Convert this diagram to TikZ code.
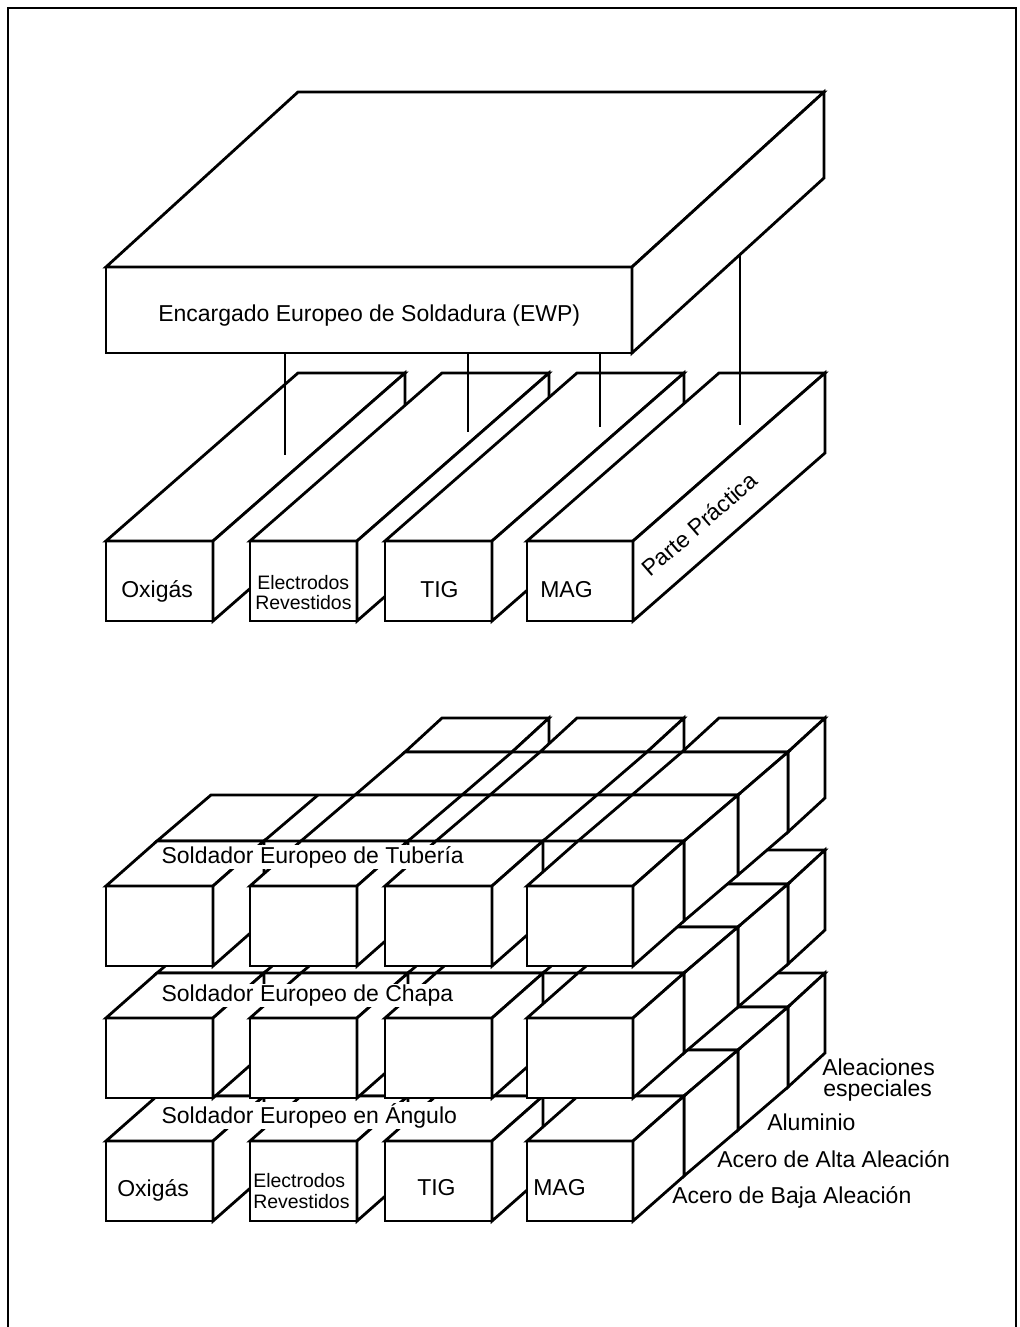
\documentclass[tikz,border=0pt]{standalone}
\usepackage{fontspec}
\setmainfont{Liberation Sans}
\tikzset{
  edge/.style={draw=black, fill=white, line width=2.1pt},
  groove/.style={draw=black, line width=2.1pt},
  link/.style={draw=black, line width=1.7pt},
  frameline/.style={draw=black, line width=1.5pt},
  lbl/.style={font=\fontsize{17.25}{20}\selectfont, inner sep=0pt},
  lblsm/.style={font=\fontsize{14.6}{15.6}\selectfont, inner sep=0pt, align=left},
  band/.style={lbl, fill=white, inner xsep=1pt, inner ysep=0.6pt},
}
% A box seen from the front-right-top:
% #1,#2 front-top-left corner, #3 width, #4 height, #5,#6 depth vector
\newcommand\blk[6]{%
  \filldraw[edge] (#1,#2) rectangle ++(#3,#4);
  \filldraw[edge] (#1,#2) -- ++(#5,#6) -- ++(#3,0) -- (#1+#3,#2) -- cycle;
  \filldraw[edge] (#1+#3,#2) -- ++(#5,#6) -- ++(0,#4) -- (#1+#3,#2+#4) -- cycle;
}
% one grid box: #1 left x, #2 width, #3 level top y, #4,#5 row front offset, #6,#7 row depth
\newcommand\boxat[7]{%
  \pgfmathsetmacro\px{#1+#4}\pgfmathsetmacro\py{#3+#5}%
  \blk{\px}{\py}{#2}{80}{#6}{#7}}
% a row spanning several columns, with the column edges scored on its top face
\newcommand\slabat[8]{%
  \boxat{#1}{#2}{#3}{#4}{#5}{#6}{#7}
  \foreach \g in {#8}{\draw[groove] (\g+#4,#3+#5) -- ++(#6,#7);}}

\begin{document}
\begin{tikzpicture}[x=0.75pt, y=-0.75pt]
\useasboundingbox (0,0) rectangle (1020,1327);

% outer frame
\draw[frameline] (8,1327) -- (8,8) -- (1016,8) -- (1016,1327);

% ---------- upper block: EWP slab and the four process bars ----------
\blk{106}{267}{526}{86}{192}{-175}
\node[lbl, anchor=base west] (ewp) at (158,321) {Encargado Europeo de Soldadura (EWP)};

\blk{106}{541}{107}{80}{192}{-168}
\blk{250}{541}{107}{80}{192}{-168}
\blk{385}{541}{107}{80}{192}{-168}
\blk{527}{541}{106}{80}{192}{-168}

\node[lbl, anchor=base west] (oxi) at (121,597) {Oxigás};
\node[lblsm, anchor=base west] (ele) at (257,589) {Electrodos};
\node[lblsm, anchor=base west] (rev) at (255,609) {Revestidos};
\node[lbl, anchor=base west] (tig) at (420,597) {TIG};
\node[lbl, anchor=base west] (mag) at (540,597) {MAG};
\node[lbl, anchor=base west, rotate=41] (pra) at (650,578) {Parte Práctica};

% links from the EWP slab down to the bars
\coordinate (ewpA) at (285,353);  \coordinate (barA) at (285,455);
\coordinate (ewpB) at (468,353);  \coordinate (barB) at (468,432);
\coordinate (ewpC) at (600,353);  \coordinate (barC) at (600,427);
\coordinate (ewpD) at (740,254.6);\coordinate (barD) at (740,425);
\draw[link] (ewpA) -- (barA);
\draw[link] (ewpB) -- (barB);
\draw[link] (ewpC) -- (barC);
\draw[link] (ewpD) -- (barD);

% ---------- lower block: process x level x material grid ----------
% drawn back to front; within a row, bottom level first, left column first
% row 4 (Aleaciones especiales)
\foreach \ty in {1141,1018}{
  \foreach \cx/\cw in {106/107,250/107,385/107,527/106}{
    \boxat{\cx}{\cw}{\ty}{155}{-134}{37}{-34}}}
\foreach \cx/\cw in {250/107,385/107,527/106}{
  \boxat{\cx}{\cw}{886}{155}{-134}{37}{-34}}
% row 3 (Aluminio)
\slabat{106}{527}{1141}{105}{-91}{50}{-43}{213,250,357,385,492,527}
\slabat{106}{527}{1018}{105}{-91}{50}{-43}{213,250,357,385,492,527}
\slabat{250}{383}{886}{105}{-91}{50}{-43}{357,385,492,527}
% row 2 (Acero de Alta Aleacion)
\slabat{106}{527}{1141}{51}{-45}{54}{-46}{213,250,357,385,492,527}
\slabat{106}{527}{1018}{51}{-45}{54}{-46}{213,250,357,385,492,527}
\slabat{106}{527}{886}{51}{-45}{54}{-46}{213,250,357,385,492,527}
% row 1 (Acero de Baja Aleacion)
\foreach \ty in {1141,1018,886}{
  \foreach \cx/\cw in {106/107,250/107,385/107,527/106}{
    \boxat{\cx}{\cw}{\ty}{0}{0}{51}{-45}}}

% level names written across the top faces
\node[band, anchor=base west] (tub) at (160,863) {Soldador Europeo de Tubería};
\node[band, anchor=base west] (cha) at (160,1001) {Soldador Europeo de Chapa};
\node[band, anchor=base west] (ang) at (160,1123) {Soldador Europeo en Ángulo};

% process names on the front row
\node[lbl, anchor=base west] (oxi2) at (117,1196) {Oxigás};
\node[lblsm, anchor=base west] (ele2) at (253,1187) {Electrodos};
\node[lblsm, anchor=base west] (rev2) at (253,1208) {Revestidos};
\node[lbl, anchor=base west] (tig2) at (417,1195) {TIG};
\node[lbl, anchor=base west] (mag2) at (533,1195) {MAG};

% material names along the depth
\node[lbl, anchor=base west] (mat4a) at (822,1075) {Aleaciones};
\node[lbl, anchor=base west] (mat4b) at (823,1096) {especiales};
\node[lbl, anchor=base west] (mat3) at (767,1130) {Aluminio};
\node[lbl, anchor=base west] (mat2) at (717,1167) {Acero de Alta Aleación};
\node[lbl, anchor=base west] (mat1) at (672,1203) {Acero de Baja Aleación};
\end{tikzpicture}
\end{document}
